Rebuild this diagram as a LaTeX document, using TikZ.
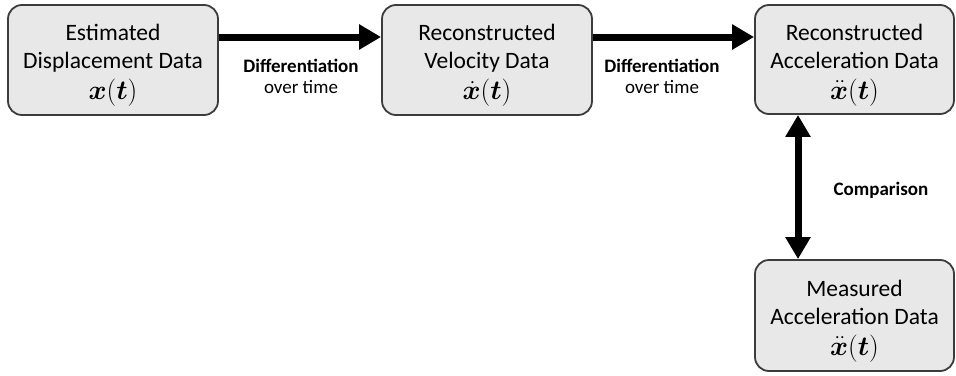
\documentclass[tikz,border=0pt]{standalone}
\usepackage{fontspec}
\setmainfont{Carlito}
\usepackage{amsmath,bm}
\usetikzlibrary{arrows.meta}
\definecolor{boxfill}{RGB}{232,232,232}
\definecolor{boxborder}{RGB}{60,60,60}
\newcommand{\mth}[1]{\scalebox{1.1}{$#1$}}
\newcommand{\topstrut}{\rule{0pt}{27pt}}
\begin{document}
\begin{tikzpicture}[x=1pt,y=-1pt,
  box/.style={draw=boxborder, line width=1.8pt, fill=boxfill, rounded corners=14pt,
    align=center, inner sep=0pt, font=\fontsize{23.5}{28}\selectfont},
  flow/.style={line width=7pt, -{Triangle[length=22pt,width=24pt]}},
  both/.style={line width=7pt, {Triangle[length=22pt,width=24pt]}-{Triangle[length=22pt,width=24pt]}},
  lbl/.style={inner sep=0pt, anchor=base, font=\fontsize{19}{21}\selectfont}]
\useasboundingbox (0,0) rectangle (956,375);
\node[box, minimum width=210pt, minimum height=110pt] (b1) at (113,60)
  {\topstrut Estimated\\Displacement Data\\[3pt]\mth{\bm{x}(\bm{t})}};
\node[box, minimum width=210pt, minimum height=110pt] (b2) at (487,60)
  {\topstrut Reconstructed\\Velocity Data\\[3pt]\mth{\dot{\bm{x}}(\bm{t})}};
\node[box, minimum width=199pt, minimum height=109pt] (b3) at (854.5,59.5)
  {\topstrut Reconstructed\\Acceleration Data\\[3pt]\mth{\ddot{\bm{x}}(\bm{t})}};
\node[box, minimum width=199pt, minimum height=111pt] (b4) at (854.5,315.5)
  {\topstrut Measured\\Acceleration Data\\[3pt]\mth{\ddot{\bm{x}}(\bm{t})}};
\draw[flow] ([yshift=23pt]b1.east) -- ([yshift=23pt]b2.west);
\draw[flow] ([yshift=23pt]b2.east) -- ([yshift=22.5pt]b3.west);
\draw[both] ([xshift=-56.5pt]b3.south) -- ([xshift=-56.5pt]b4.north);
\node[lbl] (l1a) at (301,72) {\textbf{Differentiation}};
\node[lbl] (l1b) at (301,93) {over time};
\node[lbl] (l2a) at (662,72) {\textbf{Differentiation}};
\node[lbl] (l2b) at (662,93) {over time};
\node[lbl] (l3) at (881,195) {\textbf{Comparison}};
\end{tikzpicture}
\end{document}
